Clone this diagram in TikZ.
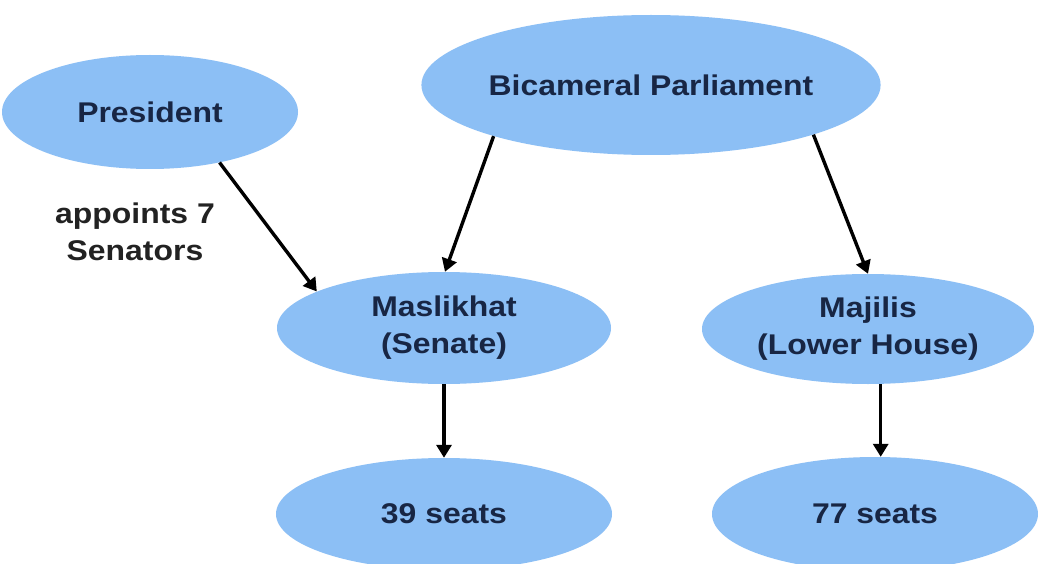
\documentclass[tikz,border=0pt]{standalone}
\usepackage{fontspec}
\setmainfont{Liberation Sans}[FakeStretch=1.12]
\usetikzlibrary{shapes.geometric,arrows.meta}
\definecolor{ellfill}{RGB}{140,191,245}
\definecolor{elltext}{RGB}{24,38,68}
\definecolor{notetext}{RGB}{34,34,34}
\tikzset{
  oval/.style={ellipse, fill=ellfill, draw=none, inner sep=0pt,
    font=\fontsize{28.5}{37}\selectfont\bfseries, text=elltext, align=center},
  link/.style={line width=3.4pt, draw=black, -{Triangle[length=13pt,width=15pt]}},
  note/.style={font=\fontsize{28.5}{37}\selectfont\bfseries, text=notetext, align=center}
}
\begin{document}
\begin{tikzpicture}[x=1pt,y=-1pt]
\useasboundingbox (0,0) rectangle (1038,564);
\fill[white] (0,0) rectangle (1038,564);
\node[oval, minimum width=296pt, minimum height=114pt] (pres) at (150,112) {President};
\node[oval, minimum width=388pt, minimum height=140pt] (bic) at (651,85) {Bicameral Parliament};
\node[oval, minimum width=334pt, minimum height=112pt] (mas) at (444,328) {Maslikhat\\(Senate)};
\node[oval, minimum width=332pt, minimum height=110pt] (maj) at (868,329) {Majilis\\(Lower House)};
\node[oval, minimum width=336pt, minimum height=112pt] (s39) at (444,514) {39 seats};
\node[oval, minimum width=326pt, minimum height=114pt] (s77) at (875,514) {77 seats};
\node[note] (appt) at (135,232) {appoints 7\\Senators};
\draw[link] (pres.-36) -- (mas.164);
\draw[link] (bic.-162) -- (mas.89);
\draw[link] (bic.-17.6) -- (maj.90);
\draw[link] (mas.270) -- (s39.90);
\draw[link] (maj.-77.5) -- (maj.-77.5 |- s77.north);
\end{tikzpicture}
\end{document}
